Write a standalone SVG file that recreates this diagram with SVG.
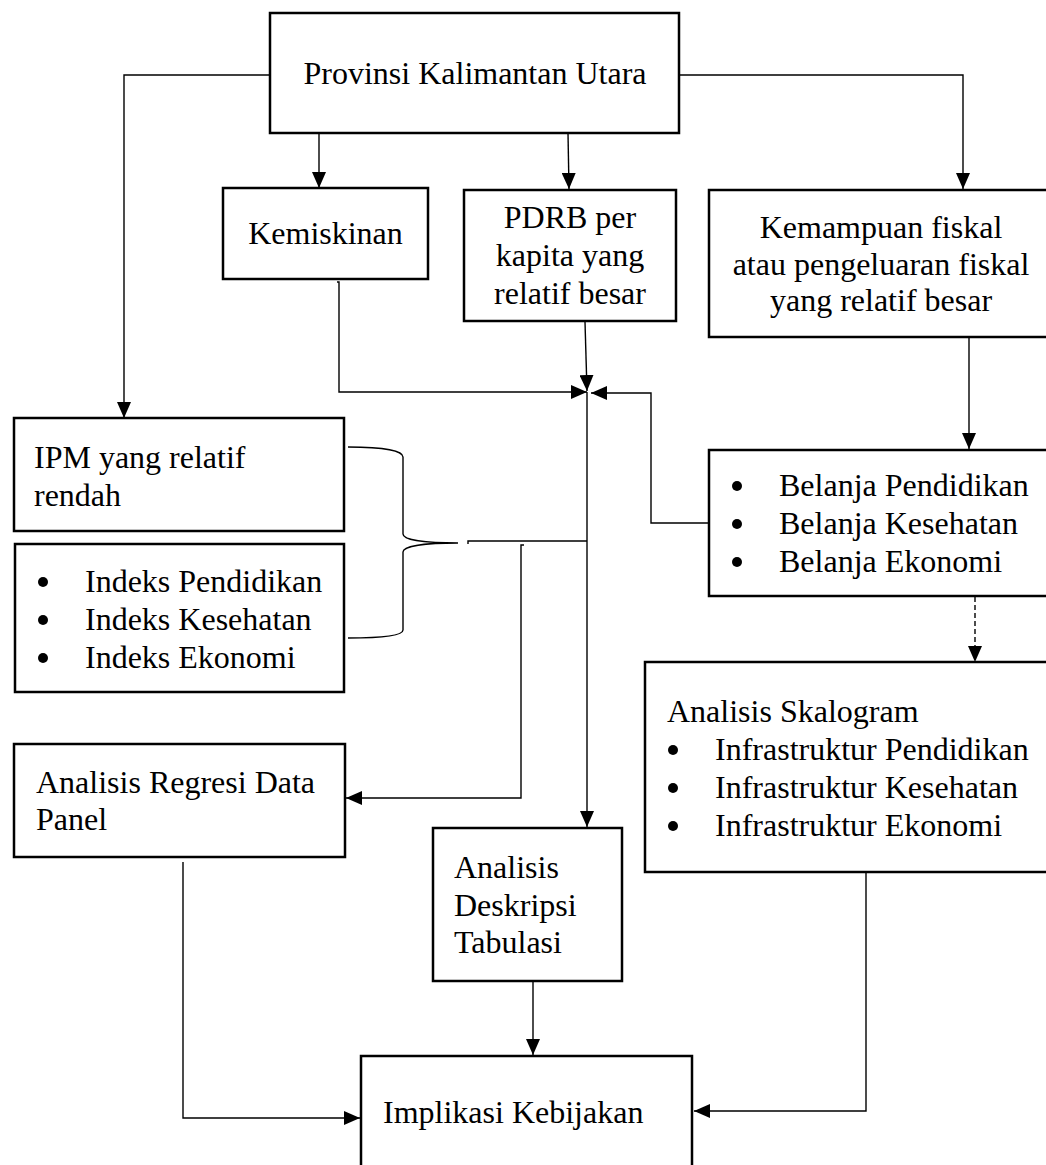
<svg xmlns="http://www.w3.org/2000/svg" width="1046" height="1165" viewBox="0 0 1046 1165">
<defs>
<style>
.box{fill:#fff;stroke:#000;stroke-width:2.5}
.ln{fill:none;stroke:#000;stroke-width:1.4}
.dash{fill:none;stroke:#000;stroke-width:1.4;stroke-dasharray:5 3}
text{font-family:"Liberation Serif","Times New Roman",serif;font-size:32px;fill:#000}
.c{text-anchor:middle}
</style>
<marker id="ah" viewBox="0 0 16 14" refX="16" refY="7" markerWidth="16" markerHeight="14" markerUnits="userSpaceOnUse" orient="auto">
<path d="M0,0 L16,7 L0,14 Z" fill="#000"/>
</marker>
</defs>
<rect width="1046" height="1165" fill="#fff"/>
<g id="connectors">
<path class="ln" d="M270,75 H124 V418" marker-end="url(#ah)"/>
<path class="ln" d="M679,75 H963 V189" marker-end="url(#ah)"/>
<path class="ln" d="M319,133 V188" marker-end="url(#ah)"/>
<path class="ln" d="M568,133 L569,189" marker-end="url(#ah)"/>
<path class="ln" d="M337,282 H339 V392 H587" marker-end="url(#ah)"/>
<path class="ln" d="M585,322 L587,391" marker-end="url(#ah)"/>
<path class="ln" d="M709,523 H651 V393 H591" marker-end="url(#ah)"/>
<path class="ln" d="M969,337 V449" marker-end="url(#ah)"/>
<path class="ln" d="M587,392 V827" marker-end="url(#ah)"/>
<path class="ln" d="M468,544 V541 H587"/>
<path class="ln" d="M524,545 H521 V798 H346" marker-end="url(#ah)"/>
<path class="ln" d="M348,447 C385,447 403,451 403,457 L403,534 C403,540 425,543 458,543 C425,543 403,546 403,552 L403,630 C403,635 385,638 348,638"/>
<path class="dash" d="M975,597 V662" marker-end="url(#ah)"/>
<path class="ln" d="M533,981 V1055" marker-end="url(#ah)"/>
<path class="ln" d="M183,862 V1118 H360" marker-end="url(#ah)"/>
<path class="ln" d="M866,872 V1111 H694" marker-end="url(#ah)"/>
</g>
<g id="provinsi">
<rect class="box" x="270" y="13" width="409" height="120"/>
<text class="c" x="475" y="84">Provinsi Kalimantan Utara</text>
</g>
<g id="kemiskinan">
<rect class="box" x="223" y="188" width="205" height="91"/>
<text class="c" x="325.5" y="244">Kemiskinan</text>
</g>
<g id="pdrb">
<rect class="box" x="464" y="190" width="212" height="131"/>
<text class="c" x="570" y="228">PDRB per</text>
<text class="c" x="570" y="266">kapita yang</text>
<text class="c" x="570" y="304">relatif besar</text>
</g>
<g id="kemampuan">
<rect class="box" x="709" y="190" width="345" height="147"/>
<text class="c" x="881" y="238">Kemampuan fiskal</text>
<text class="c" x="881" y="275">atau pengeluaran fiskal</text>
<text class="c" x="881" y="311">yang relatif besar</text>
</g>
<g id="ipm">
<rect class="box" x="14" y="418" width="330" height="113"/>
<text x="34" y="468">IPM yang relatif</text>
<text x="34" y="506">rendah</text>
</g>
<g id="indeks">
<rect class="box" x="15" y="544" width="329" height="148"/>
<circle cx="43" cy="582" r="5"/>
<circle cx="43" cy="620" r="5"/>
<circle cx="43" cy="658" r="5"/>
<text x="85" y="592">Indeks Pendidikan</text>
<text x="85" y="630">Indeks Kesehatan</text>
<text x="85" y="668">Indeks Ekonomi</text>
</g>
<g id="belanja">
<rect class="box" x="709" y="450" width="345" height="146"/>
<circle cx="737" cy="486" r="5"/>
<circle cx="737" cy="524" r="5"/>
<circle cx="737" cy="562" r="5"/>
<text x="779" y="496">Belanja Pendidikan</text>
<text x="779" y="534">Belanja Kesehatan</text>
<text x="779" y="572">Belanja Ekonomi</text>
</g>
<g id="skalogram">
<rect class="box" x="645" y="662" width="409" height="210"/>
<text x="667" y="722">Analisis Skalogram</text>
<circle cx="673" cy="750" r="5"/>
<circle cx="673" cy="788" r="5"/>
<circle cx="673" cy="826" r="5"/>
<text x="715" y="760">Infrastruktur Pendidikan</text>
<text x="715" y="798">Infrastruktur Kesehatan</text>
<text x="715" y="836">Infrastruktur Ekonomi</text>
</g>
<g id="regresi">
<rect class="box" x="14" y="744" width="331" height="113"/>
<text x="36" y="793">Analisis Regresi Data</text>
<text x="36" y="830">Panel</text>
</g>
<g id="deskripsi">
<rect class="box" x="433" y="828" width="189" height="153"/>
<text x="454" y="878">Analisis</text>
<text x="454" y="916">Deskripsi</text>
<text x="454" y="953">Tabulasi</text>
</g>
<g id="implikasi">
<rect class="box" x="361" y="1056" width="331" height="130"/>
<text x="383" y="1123">Implikasi Kebijakan</text>
</g>
</svg>
